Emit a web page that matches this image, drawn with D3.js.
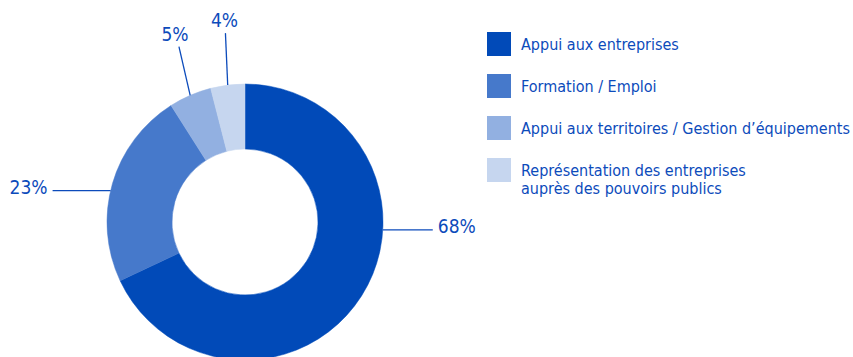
<!DOCTYPE html>
<html>
<head>
<meta charset="utf-8">
<script src="https://cdn.jsdelivr.net/npm/d3@7"></script>
<style>
  html, body { margin: 0; padding: 0; background: #ffffff; }
  svg { display: block; }
  text { font-family: "DejaVu Sans Condensed", "DejaVu Sans", sans-serif; font-stretch: condensed; fill: #0c4bbb; }
</style>
</head>
<body>
<div id="chart"></div>
<script>
// ---- data ----
const categories = [
  "Appui aux entreprises",
  "Formation / Emploi",
  "Appui aux territoires / Gestion d’équipements",
  "Représentation des entreprises\nauprès des pouvoirs publics"
];
const values = [68, 23, 5, 4];
const valueLabels = ["68%", "23%", "5%", "4%"];
const colors = ["#014ab8", "#4679cb", "#92b0e1", "#c6d6ef"];

// ---- layout ----
const W = 853, H = 357;
const cx = 245, cy = 222;
const outerR = 138, innerR = 73;
const textColor = "#0c4bbb";

// label layout: anchor on the outer edge (degrees clockwise from 12 o'clock, null = slice middle),
// and leader style
const labelLayout = [
  { angle: 93.3, mode: "h", len: 50 },
  { angle: 283.1, mode: "h", len: 58 },
  { angle: null, mode: "v", len: 50, tilt: 13, shift: -4 },
  { angle: null, mode: "v", len: 52, tilt: 2.5, shift: -1 }
];

const svg = d3.select("#chart").append("svg")
  .attr("width", W).attr("height", H);

const data = categories.map((c, i) => ({ cat: c, value: values[i], label: valueLabels[i], color: colors[i], i }));

const pie = d3.pie().value(d => d.value).sort(null).startAngle(0).endAngle(2 * Math.PI);
const arc = d3.arc().innerRadius(innerR).outerRadius(outerR);
const arcs = pie(data);

const g = svg.append("g").attr("transform", `translate(${cx},${cy})`);
g.selectAll("path.slice").data(arcs).enter().append("path")
  .attr("class", "slice")
  .attr("d", arc)
  .attr("fill", d => d.data.color)
  .attr("stroke", d => d.data.color)
  .attr("stroke-width", 0.5);

// labels with leaders
const rad = Math.PI / 180;
arcs.forEach((a, i) => {
  const L = labelLayout[i];
  const ang = L.angle === null ? (a.startAngle + a.endAngle) / 2 : L.angle * rad;
  const x0 = outerR * Math.sin(ang), y0 = -outerR * Math.cos(ang);
  let x1, y1;
  if (L.mode === "h") {
    const dir = Math.sin(ang) >= 0 ? 1 : -1;
    x1 = x0 + dir * L.len; y1 = y0;
    g.append("line").attr("x1", x0).attr("y1", y0).attr("x2", x1).attr("y2", y1)
      .attr("stroke", textColor).attr("stroke-width", 1.3);
    g.append("text")
      .attr("x", x1 + dir * 5).attr("y", y1)
      .attr("dy", "0.18em")
      .attr("text-anchor", dir > 0 ? "start" : "end")
      .style("font-size", "19px")
      .text(a.data.label);
  } else {
    const t = L.tilt * rad;
    x1 = x0 - L.len * Math.sin(t); y1 = y0 - L.len * Math.cos(t);
    g.append("line").attr("x1", x0).attr("y1", y0).attr("x2", x1).attr("y2", y1)
      .attr("stroke", textColor).attr("stroke-width", 1.3);
    g.append("text")
      .attr("x", x1 + L.shift).attr("y", y1 - 6)
      .attr("text-anchor", "middle")
      .style("font-size", "19px")
      .text(a.data.label);
  }
});

// legend
const legendX = 487, legendY0 = 32, legendStep = 42, sw = 24;
const lg = svg.append("g");
data.forEach((d, i) => {
  const y = legendY0 + i * legendStep;
  lg.append("rect").attr("x", legendX).attr("y", y).attr("width", sw).attr("height", sw).attr("fill", d.color);
  const lines = d.cat.split("\n");
  const t = lg.append("text").attr("x", legendX + 34).attr("y", y + sw / 2 + 5.5).style("font-size", "16px");
  lines.forEach((ln, k) => {
    t.append("tspan").attr("x", legendX + 34).attr("dy", k === 0 ? 0 : 18).text(ln);
  });
});
</script>
</body>
</html>
